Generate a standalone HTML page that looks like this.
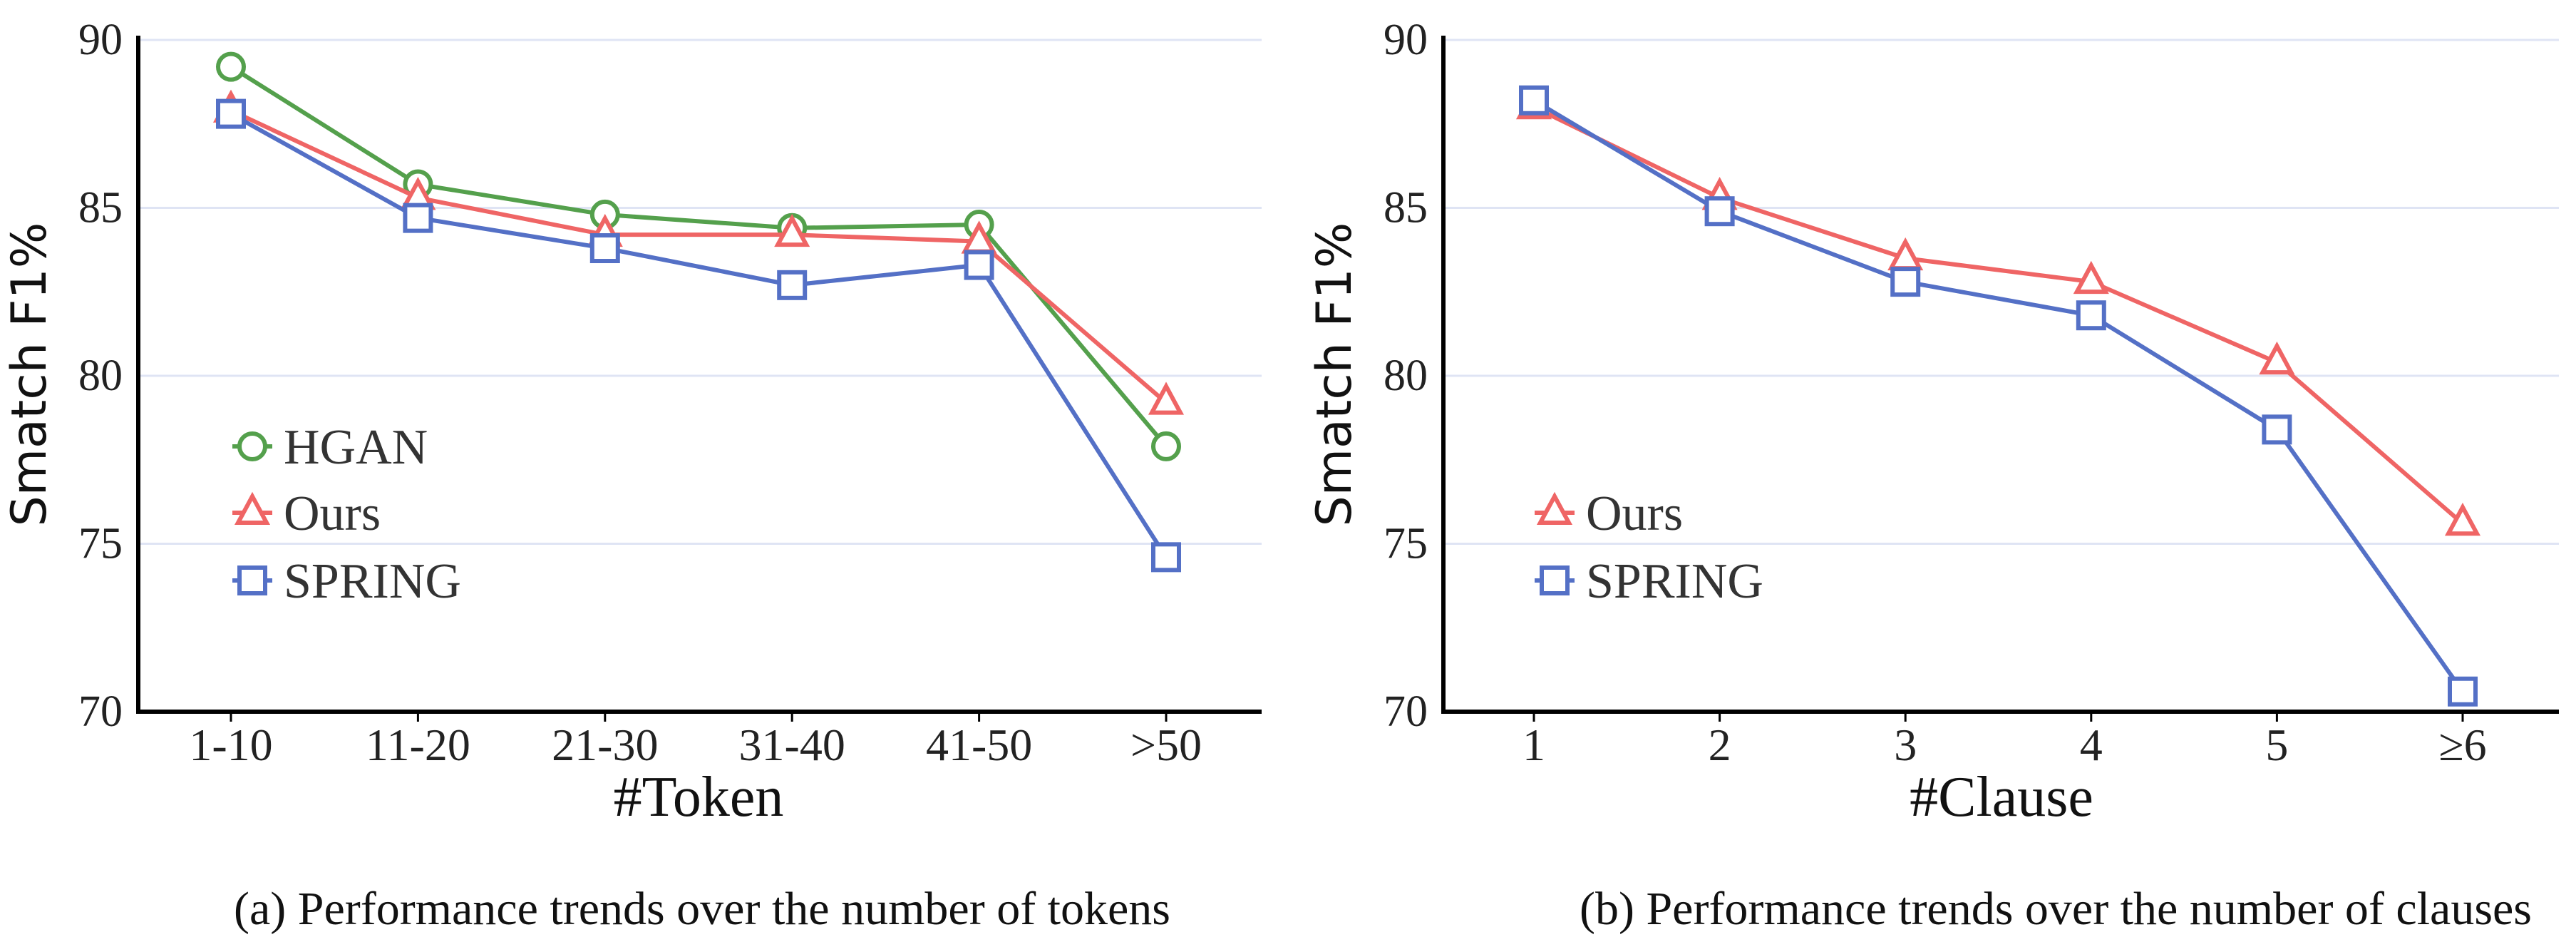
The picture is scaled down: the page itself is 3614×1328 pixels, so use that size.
<!DOCTYPE html>
<html><head><meta charset="utf-8"><style>
html,body{margin:0;padding:0;background:#fff;}
svg{display:block;}
</style></head><body>
<svg id="fig" width="3614" height="1328" viewBox="0 0 3614 1328" xmlns="http://www.w3.org/2000/svg">
<g id="g"></g>
</svg>
<script>
const catsA = ["1-10","11-20","21-30","31-40","41-50",">50"];
const hganA = [89.2,85.7,84.8,84.4,84.5,77.9];
const oursA = [87.9,85.3,84.2,84.2,84.0,79.2];
const springA = [87.8,84.7,83.8,82.7,83.3,74.6];
const catsB = ["1","2","3","4","5","≥6"];
const oursB = [88.0,85.3,83.5,82.8,80.4,75.6];
const springB = [88.2,84.9,82.8,81.8,78.4,70.6];
const yTicks = [70,75,80,85,90];

const NS="http://www.w3.org/2000/svg";
const root=document.getElementById('g');
function mk(tag,attrs,parent){const e=document.createElementNS(NS,tag);for(const k in attrs)e.setAttribute(k,attrs[k]);(parent||root).appendChild(e);return e;}
const GREEN="#54a04c",RED="#ef6565",BLUE="#5470c6";
function yS(v){return 998-(v-70)*(998-56)/20;}

function marker(type,x,y,color,g){
  let m;
  if(type==='circle') m=mk('circle',{cx:x,cy:y,r:18,fill:'#fff',stroke:color,'stroke-width':6},g);
  else if(type==='square') m=mk('rect',{x:x-18,y:y-18,width:36,height:36,fill:'#fff',stroke:color,'stroke-width':6},g);
  else m=mk('polygon',{points:`${x},${y-23} ${x+20},${y+14} ${x-20},${y+14}`,fill:'#fff',stroke:color,'stroke-width':6,'stroke-linejoin':'miter'},g);
  return m;
}

function chart(opt){
  const g=mk('g',{});
  
  
  const x0=opt.axisX, x1=opt.right;
  const xS=i=>opt.firstX+i*opt.step;
  yTicks.forEach(t=>{
    if(t>70){const l=mk('line',{x1:x0,x2:x1,y1:yS(t),y2:yS(t),stroke:'#dfe4f4','stroke-width':3},g);
    }
    const tx=mk('text',{x:x0-22,y:yS(t)+20,'text-anchor':'end','font-family':'Liberation Serif, serif','font-size':62,fill:'#222'},g);
    tx.textContent=t;
    
  });
  opt.cats.forEach((c,i)=>{
    const tk=mk('line',{x1:xS(i),x2:xS(i),y1:998,y2:1012,stroke:'#000','stroke-width':3},g);
    
    const tx=mk('text',{x:xS(i),y:1066,'text-anchor':'middle','font-family':'Liberation Serif, serif','font-size':64,fill:'#222'},g);
    tx.textContent=c;
    
  });
  const ax=mk('path',{d:`M${x0},50 L${x0},998 L${x1},998`,fill:'none',stroke:'#000','stroke-width':6},g);
  
  opt.series.forEach(s=>{
    const sg=mk('g',{},g);
    
    
    const pts=s.vals.map((v,i)=>xS(i)+','+yS(v)).join(' ');
    const pl=mk('polyline',{points:pts,fill:'none',stroke:s.color,'stroke-width':6},sg);
    
    s.vals.forEach((v,i)=>{const m=marker(s.type,xS(i),yS(v),s.color,sg);
      });
  });
  opt.series.forEach((s,k)=>{
    const ly=opt.legY[k];
    const lg=mk('g',{},g);
    
    
    mk('line',{x1:opt.legX-28,x2:opt.legX+28,y1:ly,y2:ly,stroke:s.color,'stroke-width':6},lg);
    marker(s.type,opt.legX,ly,s.color,lg);
    const t=mk('text',{x:opt.legX+44,y:ly+24,'font-family':'Liberation Serif, serif','font-size':70,fill:'#333'},lg);
    t.textContent=s.label;
  });
  const yt=mk('text',{transform:`translate(${opt.axisX-130},525) rotate(-90)`,'text-anchor':'middle','font-family':'DejaVu Sans, Liberation Sans, sans-serif','font-size':68,fill:'#111'},g);
  yt.textContent='Smatch F1%';
  
  const xt=mk('text',{x:opt.xTitleX,y:1144,'text-anchor':'middle','font-family':'Liberation Serif, serif','font-size':80,fill:'#111'},g);
  xt.textContent=opt.xTitle;
  
  const cp=mk('text',{x:opt.capX,y:1296,'text-anchor':'middle','font-family':'Liberation Serif, serif','font-size':66,fill:'#111'},g);
  cp.textContent=opt.caption;
  
}

chart({name:'chart-tokens',axisX:194,right:1770,firstX:324,step:262.4,cats:catsA,
  series:[{label:'HGAN',vals:hganA,color:GREEN,type:'circle'},{label:'Ours',vals:oursA,color:RED,type:'tri'},{label:'SPRING',vals:springA,color:BLUE,type:'square'}],
  legX:354,legY:[626,719,814],xTitle:'#Token',xTitleX:980,capX:985,caption:'(a)  Performance trends over the number of tokens'});
chart({name:'chart-clauses',axisX:2025,right:3590,firstX:2152,step:260.6,cats:catsB,
  series:[{label:'Ours',vals:oursB,color:RED,type:'tri'},{label:'SPRING',vals:springB,color:BLUE,type:'square'}],
  legX:2181,legY:[719,814],xTitle:'#Clause',xTitleX:2808,capX:2884,caption:'(b)  Performance trends over the number of clauses'});
</script>
</body></html>
